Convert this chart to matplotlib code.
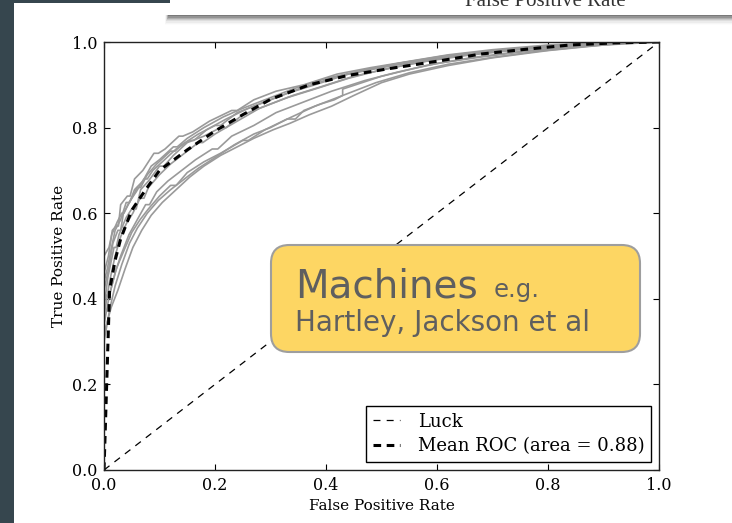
import numpy as np
import matplotlib
matplotlib.use("Agg")
import matplotlib.pyplot as plt
from matplotlib.patches import Rectangle, FancyBboxPatch

plt.rcParams["font.family"] = ["DejaVu Serif"]
plt.rcParams["lines.scale_dashes"] = False

# ROC curves of the individual cross-validation folds (fpr, tpr)
fold_fpr = [
    [0, 0, 0.008, 0.015, 0.022, 0.026, 0.03, 0.042, 0.047, 0.055, 0.07, 0.09, 0.098, 0.11, 0.135, 0.142, 0.16, 0.19, 0.23, 0.24, 0.27, 0.31, 0.36, 0.42, 0.48, 0.55, 0.62, 0.70, 0.80, 0.90, 1.0],
    [0, 0, 0.01, 0.016, 0.025, 0.03, 0.035, 0.048, 0.06, 0.066, 0.078, 0.095, 0.12, 0.128, 0.14, 0.17, 0.2, 0.21, 0.24, 0.28, 0.33, 0.38, 0.44, 0.5, 0.58, 0.66, 0.75, 0.85, 0.93, 1.0],
    [0, 0, 0.007, 0.018, 0.022, 0.027, 0.04, 0.05, 0.058, 0.066, 0.08, 0.1, 0.108, 0.125, 0.15, 0.18, 0.21, 0.22, 0.25, 0.29, 0.34, 0.39, 0.45, 0.52, 0.6, 0.68, 0.77, 0.86, 0.94, 1.0],
    [0, 0, 0.009, 0.014, 0.024, 0.032, 0.036, 0.045, 0.058, 0.072, 0.078, 0.088, 0.105, 0.13, 0.155, 0.162, 0.185, 0.22, 0.26, 0.30, 0.35, 0.41, 0.47, 0.54, 0.63, 0.72, 0.82, 0.91, 1.0],
    [0, 0, 0.006, 0.012, 0.02, 0.03, 0.04, 0.046, 0.055, 0.07, 0.085, 0.1, 0.125, 0.132, 0.15, 0.18, 0.215, 0.25, 0.29, 0.34, 0.4, 0.46, 0.53, 0.61, 0.7, 0.8, 0.9, 1.0],
    [0, 0, 0.01, 0.02, 0.03, 0.04, 0.052, 0.065, 0.072, 0.08, 0.1, 0.12, 0.145, 0.17, 0.178, 0.2, 0.24, 0.28, 0.33, 0.38, 0.44, 0.5, 0.57, 0.65, 0.74, 0.84, 0.92, 1.0],
    [0, 0, 0.01, 0.02, 0.03, 0.045, 0.06, 0.075, 0.082, 0.095, 0.115, 0.14, 0.165, 0.195, 0.205, 0.23, 0.27, 0.31, 0.36, 0.41, 0.47, 0.53, 0.6, 0.68, 0.76, 0.85, 0.93, 1.0],
    [0, 0, 0.012, 0.022, 0.035, 0.05, 0.065, 0.08, 0.1, 0.12, 0.13, 0.15, 0.18, 0.21, 0.25, 0.26, 0.29, 0.33, 0.38, 0.43, 0.49, 0.55, 0.62, 0.7, 0.78, 0.87, 0.94, 1.0],
    [0, 0, 0.011, 0.02, 0.032, 0.046, 0.06, 0.078, 0.098, 0.12, 0.145, 0.17, 0.2, 0.235, 0.27, 0.3, 0.33, 0.345, 0.36, 0.39, 0.415, 0.43, 0.43, 0.5, 0.58, 0.66, 0.75, 0.85, 0.93, 1.0],
    [0, 0, 0.013, 0.025, 0.038, 0.052, 0.068, 0.085, 0.105, 0.13, 0.155, 0.18, 0.21, 0.24, 0.27, 0.305, 0.335, 0.37, 0.41, 0.45, 0.5, 0.55, 0.62, 0.7, 0.8, 0.9, 1.0],
]
fold_tpr = [
    [0, 0.46, 0.50, 0.56, 0.57, 0.57, 0.62, 0.64, 0.64, 0.68, 0.70, 0.74, 0.74, 0.75, 0.78, 0.78, 0.79, 0.815, 0.84, 0.84, 0.865, 0.885, 0.90, 0.925, 0.94, 0.955, 0.97, 0.982, 0.993, 0.998, 1.0],
    [0, 0.42, 0.48, 0.53, 0.56, 0.56, 0.60, 0.63, 0.66, 0.66, 0.69, 0.715, 0.745, 0.745, 0.76, 0.785, 0.805, 0.805, 0.835, 0.855, 0.88, 0.90, 0.925, 0.94, 0.958, 0.972, 0.985, 0.994, 0.998, 1.0],
    [0, 0.38, 0.45, 0.52, 0.52, 0.55, 0.59, 0.61, 0.61, 0.655, 0.675, 0.71, 0.71, 0.735, 0.765, 0.78, 0.80, 0.80, 0.83, 0.85, 0.875, 0.895, 0.92, 0.94, 0.96, 0.975, 0.986, 0.994, 0.999, 1.0],
    [0, 0.50, 0.52, 0.55, 0.58, 0.60, 0.60, 0.625, 0.65, 0.68, 0.68, 0.70, 0.72, 0.75, 0.77, 0.77, 0.795, 0.82, 0.845, 0.865, 0.89, 0.915, 0.935, 0.952, 0.968, 0.982, 0.992, 0.998, 1.0],
    [0, 0.44, 0.47, 0.51, 0.56, 0.585, 0.625, 0.625, 0.655, 0.675, 0.71, 0.725, 0.755, 0.755, 0.775, 0.80, 0.825, 0.845, 0.865, 0.89, 0.915, 0.932, 0.95, 0.967, 0.98, 0.991, 0.998, 1.0],
    [0, 0.36, 0.44, 0.50, 0.545, 0.575, 0.60, 0.635, 0.635, 0.66, 0.69, 0.715, 0.74, 0.765, 0.765, 0.785, 0.815, 0.845, 0.87, 0.89, 0.915, 0.935, 0.953, 0.968, 0.981, 0.991, 0.997, 1.0],
    [0, 0.34, 0.41, 0.46, 0.50, 0.55, 0.585, 0.62, 0.62, 0.65, 0.675, 0.70, 0.725, 0.75, 0.75, 0.78, 0.805, 0.835, 0.86, 0.885, 0.91, 0.93, 0.95, 0.965, 0.978, 0.99, 0.997, 1.0],
    [0, 0.40, 0.42, 0.47, 0.51, 0.555, 0.585, 0.61, 0.64, 0.665, 0.665, 0.695, 0.72, 0.74, 0.77, 0.77, 0.795, 0.82, 0.85, 0.875, 0.905, 0.928, 0.948, 0.964, 0.978, 0.99, 0.997, 1.0],
    [0, 0.30, 0.38, 0.43, 0.48, 0.53, 0.565, 0.60, 0.63, 0.655, 0.68, 0.705, 0.73, 0.76, 0.785, 0.80, 0.82, 0.82, 0.84, 0.855, 0.865, 0.875, 0.89, 0.92, 0.945, 0.963, 0.978, 0.99, 0.997, 1.0],
    [0, 0.32, 0.38, 0.42, 0.47, 0.52, 0.56, 0.595, 0.625, 0.655, 0.685, 0.71, 0.735, 0.755, 0.775, 0.795, 0.81, 0.83, 0.85, 0.875, 0.905, 0.925, 0.945, 0.963, 0.98, 0.993, 1.0],
]

# mean ROC over the folds
mean_fpr = [0, 0.0101, 0.02, 0.03, 0.05, 0.075, 0.10, 0.15, 0.20, 0.25, 0.30, 0.37, 0.44, 0.51, 0.60, 0.68, 0.76, 0.84, 0.92, 1.0]
mean_tpr = [0, 0.42, 0.49, 0.54, 0.607, 0.655, 0.70, 0.748, 0.792, 0.83, 0.866, 0.90, 0.922, 0.937, 0.955, 0.972, 0.983, 0.993, 0.998, 1.0]
mean_auc = np.trapezoid(mean_tpr, mean_fpr)

tick_values = [0.0, 0.2, 0.4, 0.6, 0.8, 1.0]

W, H = 732, 523
fig = plt.figure(figsize=(W / 100, H / 100), dpi=100)
fig.patch.set_facecolor("white")


def fx(px):
    return px / W


def fy(py):
    return 1 - py / H


def frect(x0, y0, x1, y1, **kw):
    """Rectangle in figure pixels measured from the top-left corner."""
    r = Rectangle((fx(x0), fy(y1)), fx(x1 - x0), (y1 - y0) / H,
                  transform=fig.transFigure, edgecolor="none", **kw)
    fig.patches.append(r)
    return r


# slide frame: dark margin and the panel above the chart
dark = "#36464e"
frect(0, 0, 14, H, facecolor=dark, zorder=0)
frect(14, 0, 170, 3, facecolor=dark, zorder=0)
for i, a in enumerate([0.18, 0.15, 0.12, 0.09, 0.06, 0.04, 0.025, 0.012]):
    frect(168 - i * 0.5, 15, W, 16.2 + i * 1.3, facecolor="black", alpha=a, zorder=1)
frect(170, 0, W, 15, facecolor="white", zorder=2)
fig.text(fx(545), fy(5.5), "False Positive Rate", ha="center", va="baseline",
         fontsize=15, family="Liberation Serif", color="#333333", zorder=3)

ax = fig.add_axes([fx(104), fy(470), fx(659 - 104), (470 - 42) / H])
ax.set_zorder(4)

for fpr, tpr in zip(fold_fpr, fold_tpr):
    ax.plot(fpr, tpr, color="#9a9a9a", lw=1.2)

ax.plot([0, 1], [0, 1], color="black", lw=0.9, dashes=(5, 4.5), label="Luck")
ax.plot(mean_fpr, mean_tpr, color="black", lw=2.2, dashes=(5.5, 4),
        label="Mean ROC (area = %0.2f)" % mean_auc)

ax.set_xlim(0, 1)
ax.set_ylim(0, 1)
ax.set_xticks(tick_values)
ax.set_yticks(tick_values)
ax.tick_params(direction="in", top=True, right=True, length=4, width=0.8,
               labelsize=11.5, pad=5, colors="black")
for s in ax.spines.values():
    s.set_linewidth(1.0)
    s.set_color("#222222")
ax.set_xlabel("False Positive Rate", fontsize=11)
ax.set_ylabel("True Positive Rate", fontsize=11)

leg = ax.legend(loc="lower right", fontsize=13, fancybox=False, framealpha=1,
                edgecolor="black", handlelength=1.5, handletextpad=1.0,
                borderpad=0.35, labelspacing=0.38, borderaxespad=0.45)
leg.get_frame().set_linewidth(1.0)

# callout box
box = FancyBboxPatch((fx(271), fy(352)), fx(640 - 271), (352 - 245) / H,
                     boxstyle="round,pad=0,rounding_size=0.025",
                     transform=fig.transFigure, facecolor="#fdd663",
                     edgecolor="#9e9e9e", linewidth=1.5, zorder=10,
                     mutation_aspect=W / H)
fig.patches.append(box)
callout_font = "DejaVu Sans"
fig.text(fx(295), fy(297), "Machines", fontsize=28, family=callout_font, color="#5f5f5f",
         ha="left", va="baseline", zorder=11)
fig.text(fx(494), fy(297), "e.g.", fontsize=17.5, family=callout_font, color="#5f5f5f",
         ha="left", va="baseline", zorder=11)
fig.text(fx(295), fy(331), "Hartley, Jackson et al", fontsize=20, family=callout_font,
         color="#5f5f5f", ha="left", va="baseline", zorder=11)

fig.savefig("out.png", dpi=100)
